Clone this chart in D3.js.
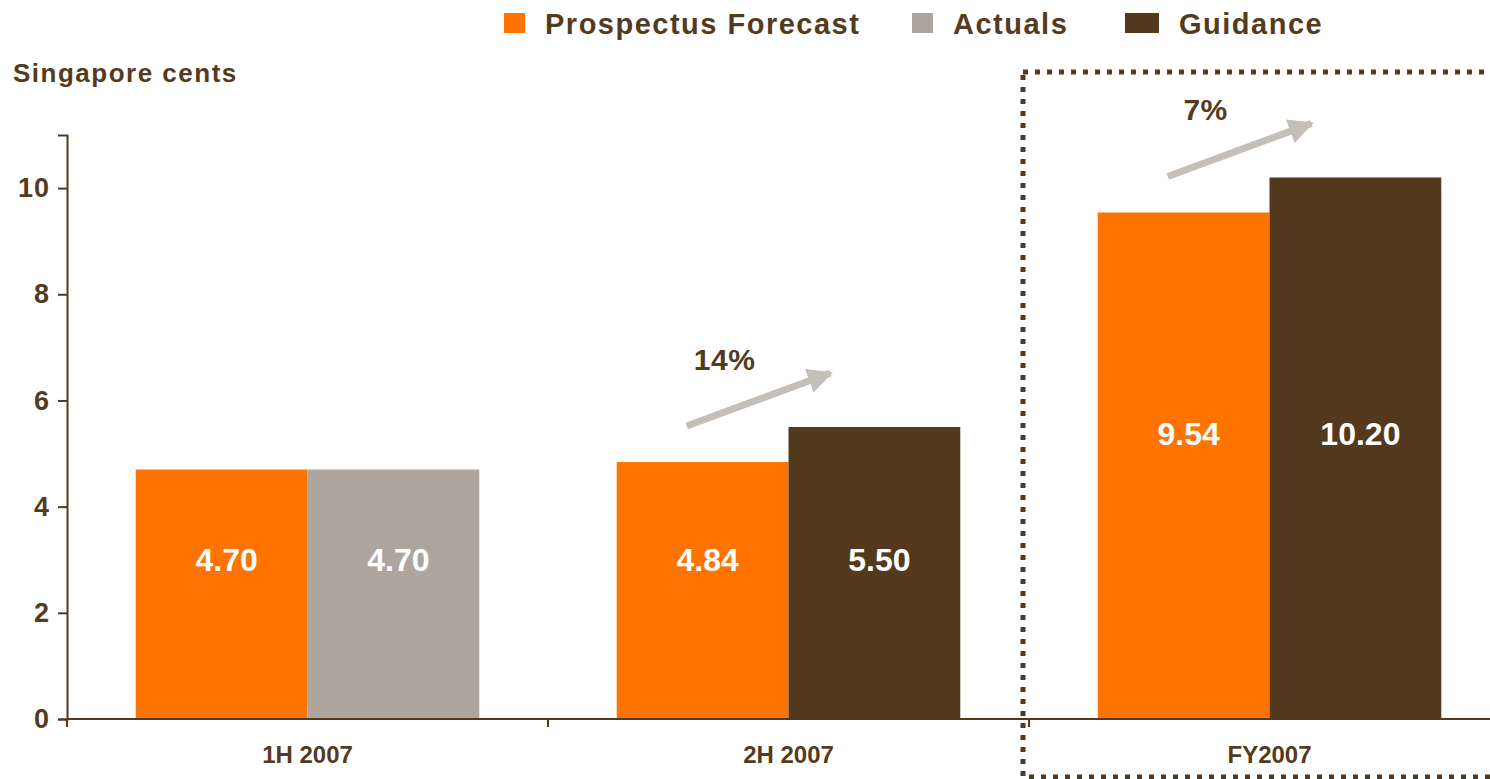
<!DOCTYPE html>
<html>
<head>
<meta charset="utf-8">
<script src="https://cdn.jsdelivr.net/npm/d3@7"></script>
<style>
  html, body { margin: 0; padding: 0; background: #fff; overflow: hidden; }
  svg { display: block; font-family: "Liberation Sans", Arial, sans-serif; font-weight: bold; }
</style>
</head>
<body>
<div id="chart"></div>
<script>
// data
var categories = ["1H 2007", "2H 2007", "FY2007"];
var forecast = [4.70, 4.84, 9.54];      // Prospectus Forecast
var actuals = [4.70, null, null];       // Actuals
var guidance = [null, 5.50, 10.20];     // Guidance
var growth = [null, "14%", "7%"];
var yTicks = [0, 2, 4, 6, 8, 10];
var legendNames = ["Prospectus Forecast", "Actuals", "Guidance"];

var W = 1490, H = 779;
var brown = "#533a1f", orange = "#ff7300", grey = "#aea59f", arrowGrey = "#c5bfba";
var textCol = "#553b1e";

var svg = d3.select("#chart").append("svg").attr("width", W).attr("height", H);

var x = d3.scaleBand().domain(categories).range([67, 1510]).padding(0);
var x1 = d3.scaleBand().domain([0, 1]).range([0, x.bandwidth()]).paddingInner(0).paddingOuter(0.4);
var y = d3.scaleLinear().domain([0, 11]).range([719, 135]);

// dotted box round FY
var fx = x("FY2007");
svg.append("rect")
  .attr("x", fx - 6).attr("y", 72)
  .attr("width", x.bandwidth() + 12).attr("height", 705)
  .attr("fill", "none").attr("stroke", brown)
  .attr("stroke-width", 5).attr("stroke-dasharray", "5,7");

// bars
var rows = categories.map(function(c, i) {
  var second = actuals[i] != null ? { v: actuals[i], col: grey } : { v: guidance[i], col: brown };
  return { cat: c, i: i, bars: [{ v: forecast[i], col: orange }, second] };
});

var g = svg.selectAll("g.grp").data(rows).enter().append("g")
  .attr("class", "grp")
  .attr("transform", function(d) { return "translate(" + x(d.cat) + ",0)"; });

g.selectAll("rect").data(function(d) { return d.bars; }).enter().append("rect")
  .attr("x", function(d, j) { return x1(j); })
  .attr("y", function(d) { return y(d.v); })
  .attr("width", x1.bandwidth())
  .attr("height", function(d) { return y(0) - y(d.v); })
  .attr("fill", function(d) { return d.col; });

// value labels, low groups in the lower part, FY higher
g.each(function(d) {
  var labelY = d.i < 2 ? y(2.78) : y(5.17);
  d3.select(this).selectAll("text.val").data(d.bars).enter().append("text")
    .attr("class", "val")
    .attr("x", function(b, j) { return x1(j) + x1.bandwidth() / 2 + 5; })
    .attr("y", labelY)
    .attr("text-anchor", "middle")
    .attr("fill", "#fff")
    .style("font-size", "32px")
    .text(function(b) { return b.v.toFixed(2); });
});

// growth arrows
var defs = svg.append("defs");
defs.append("marker").attr("id", "ah")
  .attr("viewBox", "0 0 10 10").attr("refX", 9).attr("refY", 5)
  .attr("markerWidth", 3.6).attr("markerHeight", 3.6)
  .attr("markerUnits", "strokeWidth").attr("orient", "auto")
  .append("path").attr("d", "M0,0 L10,5 L0,10 z").attr("fill", arrowGrey);

rows.forEach(function(d) {
  if (!growth[d.i]) return;
  var x0 = x(d.cat);
  var tx = x0 + x1(0) + 70, ty = y(d.bars[0].v) - 36;
  var hx = x0 + x1(1) + 46, hy = y(d.bars[1].v) - 56;
  svg.append("line")
    .attr("x1", tx).attr("y1", ty).attr("x2", hx - 4).attr("y2", hy + 2)
    .attr("stroke", arrowGrey).attr("stroke-width", 7)
    .attr("marker-end", "url(#ah)");
  svg.append("text")
    .attr("x", (tx + hx) / 2 - 36).attr("y", (ty + hy) / 2 - 29)
    .attr("text-anchor", "middle").attr("fill", textCol)
    .style("font-size", "30px").style("letter-spacing", "0.5px")
    .text(growth[d.i]);
});

// y axis
var yAxis = svg.append("g").attr("transform", "translate(67,0)")
  .call(d3.axisLeft(y).tickValues(yTicks).tickSizeOuter(0).tickSize(9).tickPadding(8));
yAxis.select(".domain").attr("stroke", brown).attr("stroke-width", 2);
yAxis.selectAll(".tick line").attr("stroke", brown).attr("stroke-width", 2);
yAxis.selectAll(".tick text").attr("fill", textCol)
  .style("font-size", "27px").style("letter-spacing", "1px")
  .style("font-family", "Liberation Sans, Arial, sans-serif").style("font-weight", "bold");

// x axis: line with ticks at band edges, labels in centre
var xa = svg.append("g");
xa.append("line").attr("x1", 67).attr("x2", 1510).attr("y1", y(0)).attr("y2", y(0))
  .attr("stroke", brown).attr("stroke-width", 2);
var edges = categories.map(function(c) { return x(c); }).concat([x.range()[1]]);
xa.selectAll("line.tk").data(edges).enter().append("line").attr("class", "tk")
  .attr("x1", function(d) { return d; }).attr("x2", function(d) { return d; })
  .attr("y1", y(0)).attr("y2", y(0) + 8)
  .attr("stroke", brown).attr("stroke-width", 2);
xa.selectAll("text").data(categories).enter().append("text")
  .attr("x", function(d) { return x(d) + x.bandwidth() / 2; })
  .attr("y", 763)
  .attr("text-anchor", "middle").attr("fill", textCol)
  .style("font-size", "24px")
  .text(function(d) { return d; });

// unit title
svg.append("text").attr("x", 13).attr("y", 82)
  .attr("fill", textCol).style("font-size", "26px").style("letter-spacing", "1.5px")
  .text("Singapore cents");

// legend
var legend = [
  { name: legendNames[0], col: orange, sx: 504, sw: 21, tx: 545 },
  { name: legendNames[1], col: grey, sx: 912, sw: 21, tx: 953 },
  { name: legendNames[2], col: brown, sx: 1125, sw: 34, tx: 1179 }
];
var lg = svg.selectAll("g.lg").data(legend).enter().append("g").attr("class", "lg");
lg.append("rect").attr("x", function(d) { return d.sx; }).attr("y", 13)
  .attr("width", function(d) { return d.sw; }).attr("height", 20)
  .attr("fill", function(d) { return d.col; });
lg.append("text").attr("x", function(d) { return d.tx; }).attr("y", 34)
  .attr("fill", textCol).style("font-size", "29px").style("letter-spacing", "1.5px")
  .text(function(d) { return d.name; });
</script>
</body>
</html>
